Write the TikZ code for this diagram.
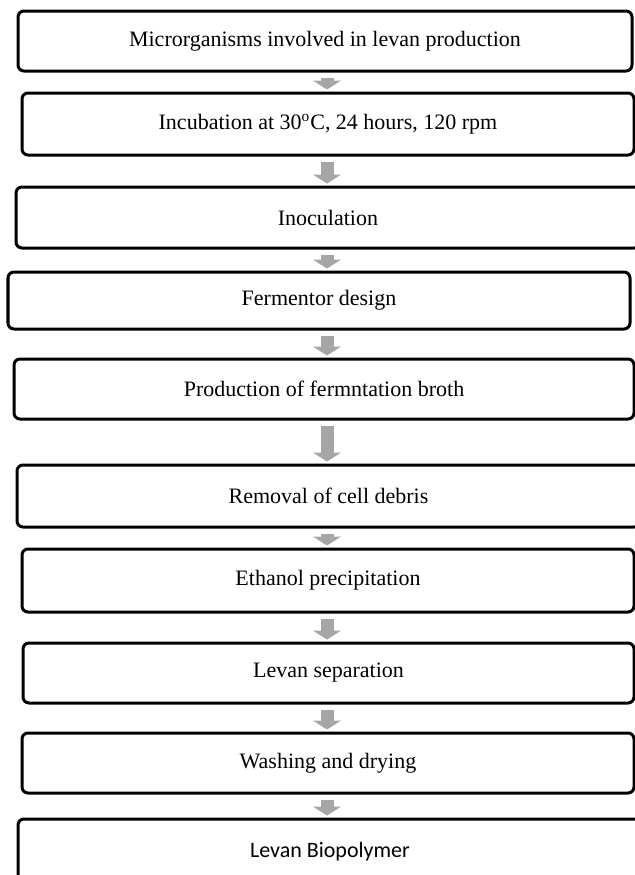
\documentclass[tikz,border=0pt]{standalone}
\usepackage{fontspec}
\setmainfont{Liberation Serif}
\newfontfamily\calibrifont{Carlito}
\usetikzlibrary{arrows.meta, positioning}
\definecolor{arrowgray}{RGB}{166,166,166}

\begin{document}
\begin{tikzpicture}[x=0.5pt, y=-0.5pt, font=\fontsize{11}{13}\selectfont,
  box/.style={draw, line width=1.5pt, rounded corners=3pt, fill=white, inner sep=0pt},
  flow/.style={arrowgray, line width=6.5pt, -{Triangle[width=14pt, length=4.5pt]}, shorten <=2.5pt, shorten >=1pt}]
  \useasboundingbox (0,0) rectangle (635,875);
  \coordinate (ax) at (327,0);

  % process steps
  \node[box, minimum width=307pt, minimum height=30pt] (micro) at (325,41) {Microrganisms involved in levan production};
  \node[box, minimum width=306pt, minimum height=31pt] (incub) at (328,124) {Incubation at 30\textsuperscript{o}C, 24 hours, 120 rpm};
  \node[box, minimum width=312pt, minimum height=30.5pt] (inoc) at (328,217.5) {Inoculation};
  \node[box, minimum width=311pt, minimum height=28.5pt] (ferm) at (319,300.5) {Fermentor design};
  \node[box, minimum width=310pt, minimum height=30pt] (prod) at (324,389) {Production of fermntation broth};
  \node[box, minimum width=311.5pt, minimum height=31pt] (debris) at (328.5,496) {Removal of cell debris};
  \node[box, minimum width=306pt, minimum height=31.5pt] (ethanol) at (328,580.5) {Ethanol precipitation};
  \node[box, minimum width=305.5pt, minimum height=30pt] (sep) at (328.5,673) {Levan separation};
  \node[box, minimum width=306pt, minimum height=30pt] (wash) at (328,763) {Washing and drying};
  \node[box, minimum width=312pt, minimum height=33pt, font=\calibrifont\fontsize{11}{13}\selectfont] (levan) at (330,852) {Levan Biopolymer};

  % arrows between steps
  \foreach \a/\b in {micro/incub, incub/inoc, inoc/ferm, ferm/prod, prod/debris, debris/ethanol, ethanol/sep, sep/wash, wash/levan}
    \draw[flow] (\a.south -| ax) -- (\b.north -| ax);
\end{tikzpicture}
\end{document}
